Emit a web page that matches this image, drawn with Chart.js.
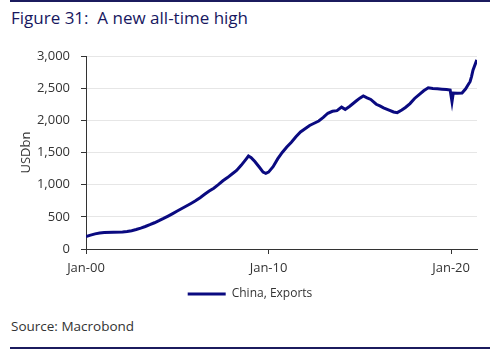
<!DOCTYPE html>
<html>
<head>
<meta charset="utf-8">
<script src="https://cdn.jsdelivr.net/npm/chart.js@4/dist/chart.umd.min.js"></script>
<style>
  html, body { margin: 0; padding: 0; background: #fff; }
  body { width: 500px; height: 354px; position: relative; overflow: hidden; font-family: "Open Sans", sans-serif; }
  .rule { position: absolute; left: 10px; width: 480px; height: 2px; background: #1b1b5e; }
  #title { position: absolute; left: 11px; top: 6px; font-size: 17px; color: #17175f; white-space: pre; }
  #source { position: absolute; left: 11px; top: 317px; font-size: 13.5px; color: #333; }
  #wrap { position: absolute; left: 0; top: 0; }
</style>
</head>
<body>
<div class="rule" style="top:0px"></div>
<div id="title">Figure 31:  A new all-time high</div>
<div id="wrap"><canvas id="chart" width="500" height="310"></canvas></div>
<div id="source">Source: Macrobond</div>
<div class="rule" style="top:347px"></div>
<script>
// decimal years
const years = [
    2000.00, 2000.25, 2000.50, 2000.75, 2001.00, 2001.50, 2002.00, 2002.25, 2002.50, 2002.75,
    2003.00, 2003.25, 2003.50, 2003.75, 2004.00, 2004.25, 2004.50, 2004.75, 2005.00, 2005.25,
    2005.50, 2005.75, 2006.00, 2006.25, 2006.50, 2006.75, 2007.00, 2007.25, 2007.50, 2007.75,
    2008.00, 2008.25, 2008.50, 2008.75, 2008.90, 2009.05, 2009.25, 2009.50, 2009.70, 2009.85,
    2010.00, 2010.25, 2010.50, 2010.75, 2011.00, 2011.25, 2011.50, 2011.75, 2012.00, 2012.25,
    2012.50, 2012.75, 2013.00, 2013.25, 2013.50, 2013.75, 2014.00, 2014.20, 2014.45, 2014.80,
    2015.00, 2015.19, 2015.40, 2015.60, 2015.90, 2016.10, 2016.30, 2016.60, 2016.85, 2017.05,
    2017.30, 2017.50, 2017.75, 2018.00, 2018.25, 2018.50, 2018.75, 2019.00, 2019.25, 2019.50,
    2019.75, 2019.95, 2020.05, 2020.12, 2020.35, 2020.60, 2020.80, 2020.95, 2021.04, 2021.12,
    2021.20, 2021.41
];
// China exports, 12m sum, USDbn
const exports = [
    195, 215, 235, 248, 255, 260, 265, 272, 285, 303,
    325, 350, 378, 408, 440, 475, 512, 550, 590, 630,
    668, 708, 750, 798, 850, 900, 945, 1000, 1060, 1110,
    1165, 1220, 1300, 1390, 1445, 1420, 1360, 1270, 1195, 1175,
    1195, 1280, 1400, 1500, 1585, 1660, 1745, 1820, 1870, 1920,
    1955, 1990, 2045, 2110, 2140, 2150, 2205, 2170, 2220, 2300,
    2345, 2380, 2350, 2325, 2250, 2225, 2195, 2160, 2130, 2120,
    2160, 2200, 2260, 2340, 2400, 2460, 2505, 2495, 2490, 2485,
    2480, 2470, 2290, 2425, 2420, 2425, 2490, 2560, 2600, 2680,
    2780, 2940
];
const xTicks = [2000, 2010, 2020];
const xTickLabels = ['Jan-00', 'Jan-10', 'Jan-20'];
const yTicks = [0, 500, 1000, 1500, 2000, 2500, 3000];

const navy = '#0a0a80';
const textColor = '#333333';
const font = { family: '"Open Sans", sans-serif', size: 13 };

new Chart(document.getElementById('chart'), {
    type: 'line',
    data: {
        datasets: [{
            label: 'China, Exports',
            data: years.map((y, i) => ({ x: y, y: exports[i] })),
            yAxisID: 'y',
            borderColor: navy,
            backgroundColor: navy,
            borderWidth: 3,
            pointRadius: 0,
            tension: 0,
        }],
    },
    options: {
        responsive: false,
        animation: false,
        layout: { padding: { top: 56, right: 0, left: 0, bottom: 0 } },
        plugins: {
            legend: {
                position: 'bottom',
                labels: {
                    usePointStyle: true,
                    pointStyle: 'line',
                    pointStyleWidth: 38,
                    color: textColor,
                    font: { family: font.family, size: 12 },
                    padding: 11,
                },
            },
            tooltip: { enabled: false },
        },
        scales: {
            x: {
                type: 'linear',
                min: 2000,
                max: 2021.42,
                afterBuildTicks: (scale) => { scale.ticks = xTicks.map((v) => ({ value: v })); },
                afterFit: (scale) => { scale.height = 28; },
                ticks: {
                    color: textColor,
                    font: font,
                    maxRotation: 0,
                    padding: 6,
                    callback: (v) => xTickLabels[xTicks.indexOf(v)],
                },
                grid: { drawOnChartArea: false, drawTicks: true, tickLength: 5, tickColor: '#333' },
                border: { color: '#333', width: 1 },
            },
            y: {
                min: 0,
                max: 3000,
                afterBuildTicks: (scale) => { scale.ticks = yTicks.map((v) => ({ value: v })); },
                afterFit: (scale) => { scale.width = 86; },
                ticks: {
                    color: textColor,
                    font: font,
                    padding: 11,
                    callback: (v) => v.toLocaleString('en-US'),
                },
                title: { display: true, text: 'USDbn', color: textColor, font: font, padding: { top: 18 } },
                grid: { color: '#e6e6e6', tickLength: 5, tickColor: '#333' },
                border: { color: '#333', width: 1 },
            },
            // empty right margin so the legend centres on the page
            spacer: {
                position: 'right',
                afterFit: (scale) => { scale.width = 23; },
                ticks: { display: false },
                grid: { display: false },
                border: { display: false },
            },
        },
    },
});
</script>
</body>
</html>
